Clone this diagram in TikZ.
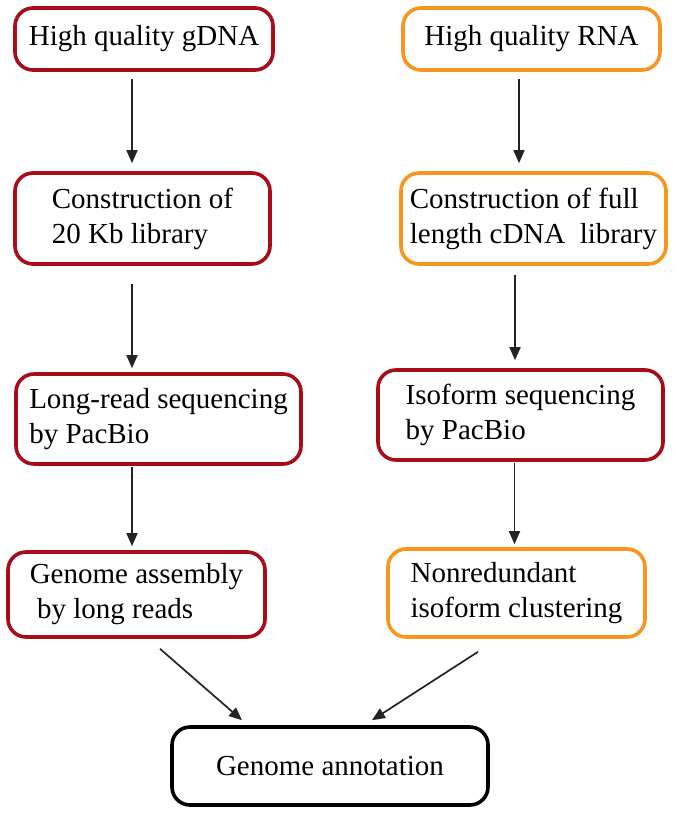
\documentclass[tikz,border=0pt]{standalone}
\usepackage{fontspec}
\setmainfont{Liberation Serif}
\usetikzlibrary{arrows.meta}
\definecolor{dred}{RGB}{168,12,24}
\definecolor{orng}{RGB}{247,150,30}
\definecolor{arrc}{RGB}{35,35,35}
\begin{document}
\begin{tikzpicture}[x=1pt,y=-1pt,
  box/.style={draw, line width=3.6pt, rounded corners=18pt, align=left, inner sep=0pt,
    font=\fontsize{29}{35}\selectfont},
  redbox/.style={box, draw=dred},
  orbox/.style={box, draw=orng},
  blkbox/.style={box, draw=black, align=center},
  arr/.style={draw=arrc, line width=1.7pt, -{Triangle[length=13pt,width=11pt]}}]
\path[use as bounding box, fill=white] (0,0) rectangle (676,814);

\node[redbox, minimum width=258pt, minimum height=62pt] (b1) at (144,39) {High quality gDNA};
\node[orbox, minimum width=257pt, minimum height=62pt] (b2) at (531.5,39) {High quality RNA};
\node[redbox, minimum width=255pt, minimum height=91pt] (b3) at (142.5,218.5) {Construction of\\20 Kb library};
\node[orbox, minimum width=265pt, minimum height=91pt] (b4) at (533.5,218.5) {Construction of full\\length cDNA\ \ library};
\node[redbox, minimum width=285pt, minimum height=90pt] (b5) at (158.5,419) {Long-read sequencing\\by PacBio};
\node[redbox, minimum width=285pt, minimum height=90pt] (b6) at (520.5,415) {Isoform sequencing\\by PacBio};
\node[redbox, minimum width=257pt, minimum height=85pt] (b7) at (136.5,594.5) {Genome assembly\\\ by long reads};
\node[orbox, minimum width=257pt, minimum height=88pt] (b8) at (516.5,593) {Nonredundant\\isoform clustering};
\node[blkbox, minimum width=316pt, minimum height=78pt] (b9) at (330,766) {Genome annotation};

\draw[arr, shorten <=7pt, shorten >=8pt] ([xshift=-12pt]b1.south) -- ([xshift=-12pt]b1.south |- b3.north);
\draw[arr, shorten <=7pt, shorten >=8pt] ([xshift=-12.5pt]b2.south) -- ([xshift=-12.5pt]b2.south |- b4.north);
\draw[arr, shorten <=18pt, shorten >=4pt] ([xshift=-10.5pt]b3.south) -- ([xshift=-10.5pt]b3.south |- b5.north);
\draw[arr, shorten <=9pt, shorten >=8pt] ([xshift=-18.5pt]b4.south) -- ([xshift=-18.5pt]b4.south |- b6.north);
\draw[arr, shorten <=1pt, shorten >=4pt] ([xshift=-26.5pt]b5.south) -- ([xshift=-26.5pt]b5.south |- b7.north);
\draw[arr, shorten <=1pt, shorten >=3pt] ([xshift=-6pt]b6.south) -- ([xshift=-6pt]b6.south |- b8.north);
\draw[arr] ([shift={(23.5,10)}]b7.south) -- ([shift={(-88,-5)}]b9.north);
\draw[arr] ([shift={(-38.5,13)}]b8.south) -- ([shift={(42,-5)}]b9.north);
\end{tikzpicture}
\end{document}
